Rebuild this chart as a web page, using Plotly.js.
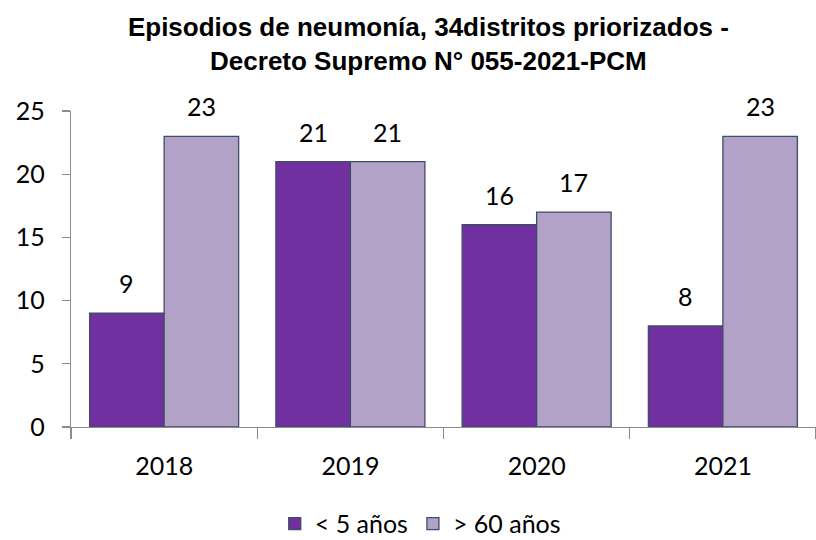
<!DOCTYPE html>
<html>
<head>
<meta charset="utf-8">
<script src="https://cdn.plot.ly/plotly-3.0.1.min.js"></script>
<style>
    body { margin: 0; background: #fff; }
    #chart { width: 816px; height: 540px; }
</style>
</head>
<body>
<div id="chart"></div>
<script>
const years = ["2018", "2019", "2020", "2021"]
const menores5 = [9, 21, 16, 8]
const mayores60 = [23, 21, 17, 23]
const seriesNames = ["< 5 años", "> 60 años"]
const yTicks = [0, 5, 10, 15, 20, 25]

const labelFont = { family: "Lato, 'Open Sans', sans-serif", size: 25, color: "#000" }

function barTrace(name, values, color) {
    return {
        type: 'bar',
        name: name,
        x: years,
        y: values,
        marker: {
            color: color,
            line: { color: '#3d4d69', width: 1.3 }
        },
        hoverinfo: 'skip'
    }
}

const data = [
    barTrace(seriesNames[0], menores5, '#7030a0'),
    barTrace(seriesNames[1], mayores60, '#b3a2c7')
]

// value labels sit well above the bars, so place them as annotations
const annotations = []
years.forEach((year, i) => {
    annotations.push({ x: i - 0.2, y: menores5[i], text: String(menores5[i]) })
    annotations.push({ x: i + 0.2, y: mayores60[i], text: String(mayores60[i]) })
})
annotations.forEach(a => {
    a.xref = 'x'
    a.yref = 'y'
    a.showarrow = false
    a.yanchor = 'middle'
    a.yshift = 30
    a.font = labelFont
})

const layout = {
    width: 816,
    height: 540,
    margin: { l: 71, r: 0, t: 111, b: 113 },
    paper_bgcolor: '#fff',
    plot_bgcolor: '#fff',
    font: labelFont,
    title: {
        text: '<b>Episodios de neumonía, 34distritos priorizados -<br>Decreto Supremo N° 055-2021-PCM</b>',
        font: { family: "'Liberation Sans', Arial, sans-serif", size: 26, color: '#000' },
        xref: 'container',
        x: 0.525,
        xanchor: 'center',
        y: 0.933,
        yanchor: 'middle'
    },
    barmode: 'group',
    bargap: 0.2,
    bargroupgap: 0,
    annotations: annotations,
    xaxis: {
        type: 'category',
        range: [-0.5, 3.5],
        showline: true,
        linecolor: '#8c8c8c',
        linewidth: 1.3,
        ticks: 'outside',
        tickson: 'boundaries',
        ticklen: 11,
        tickcolor: '#8c8c8c',
        tickwidth: 1.3,
        tickfont: labelFont,
        ticklabelstandoff: 17,
        showgrid: false,
        fixedrange: true
    },
    yaxis: {
        range: [0, 25],
        tickvals: yTicks,
        showline: true,
        linecolor: '#8c8c8c',
        linewidth: 1.3,
        ticks: 'outside',
        ticklen: 8,
        tickcolor: '#8c8c8c',
        tickwidth: 1.3,
        tickfont: labelFont,
        ticklabelstandoff: 12,
        showgrid: false,
        zeroline: false,
        fixedrange: true
    },
    showlegend: true,
    legend: {
        orientation: 'h',
        xref: 'container',
        yref: 'container',
        x: 0.515,
        xanchor: 'center',
        y: 0.03,
        yanchor: 'middle',
        font: labelFont,
        itemwidth: 30,
        traceorder: 'normal'
    }
}

Plotly.newPlot('chart', data, layout, { displayModeBar: false, staticPlot: true })
</script>
</body>
</html>
